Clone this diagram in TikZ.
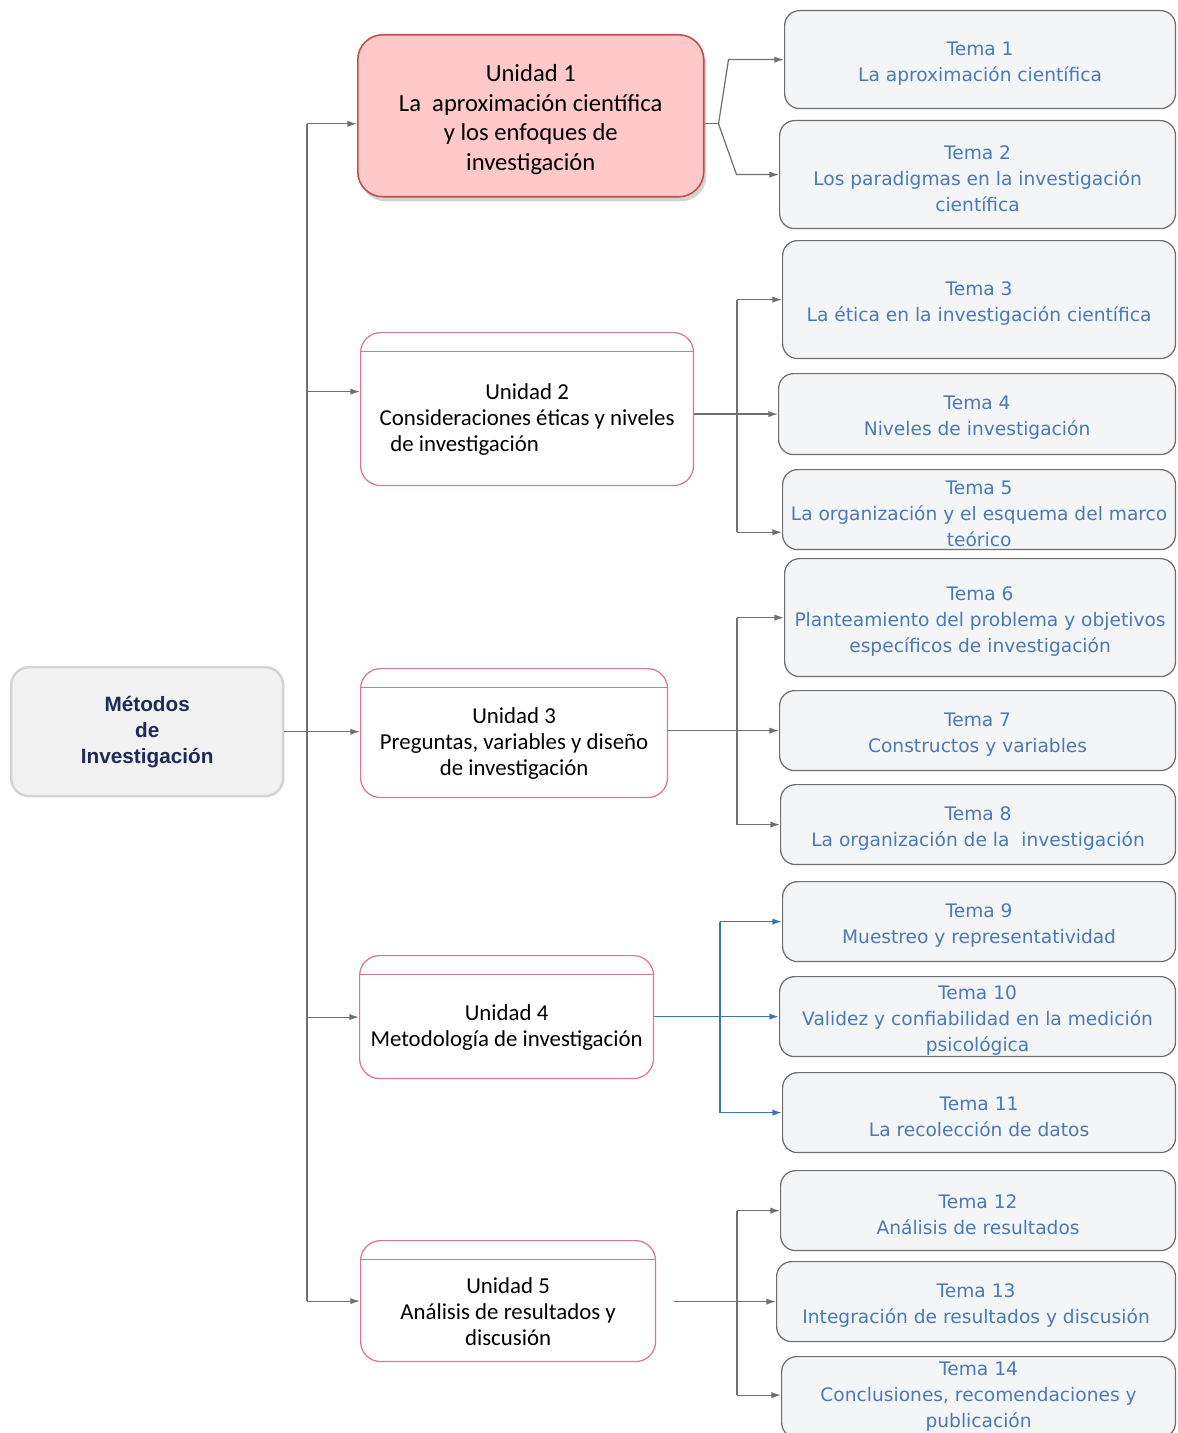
\documentclass[tikz,border=0pt]{standalone}
\usepackage{fontspec}
\setmainfont{DejaVu Sans}
\newfontfamily\unifont{Carlito}
\newfontfamily\rootfont{Liberation Sans}
\usetikzlibrary{arrows.meta,shadows}
\definecolor{rootfill}{HTML}{F2F2F2}
\definecolor{rootgray}{HTML}{D3D3D3}
\definecolor{rootnavy}{HTML}{1C2B5A}
\definecolor{unired}{HTML}{D9788C}
\definecolor{selfill}{HTML}{FFC9C9}
\definecolor{selred}{HTML}{C0504D}
\definecolor{temafill}{HTML}{F4F5F7}
\definecolor{temagray}{HTML}{6E6E6E}
\definecolor{temablue}{HTML}{4A7AB5}
\definecolor{linkgray}{HTML}{707070}
\definecolor{linkblue}{HTML}{3F73B3}
% espacio para la franja superior de las unidades
\newcommand{\unihead}{\rule{0pt}{21pt}}
\newcommand{\temahead}{\rule{0pt}{12pt}}
\tikzset{
  dims/.style 2 args = { minimum width=#1cm, minimum height=#2cm },
  root/.style      = { draw=rootgray, line width=1.4pt, fill=rootfill, rounded corners=0.36cm,
                       anchor=north west, inner sep=0pt, align=center, text=rootnavy,
                       font=\rootfont\bfseries\fontsize{11.8}{14.8}\selectfont },
  unidad_sel/.style = { draw=selred, line width=0.9pt, fill=selfill, rounded corners=0.5cm,
                       anchor=north west, inner sep=0pt, align=center,
                       drop shadow={shadow xshift=0.05cm, shadow yshift=-0.09cm, opacity=0.35},
                       font=\unifont\fontsize{14}{17}\selectfont },
  unidad/.style    = { draw=unired, line width=0.7pt, fill=white, rounded corners=0.4cm,
                       anchor=north west, inner sep=0pt, align=center,
                       path picture={\draw[unired, line width=0.6pt]
                         ([yshift=-0.38cm]path picture bounding box.north west) --
                         ([yshift=-0.38cm]path picture bounding box.north east);},
                       font=\unifont\fontsize{13}{14.8}\selectfont },
  tema/.style      = { draw=temagray, line width=0.7pt, fill=temafill, rounded corners=0.3cm,
                       anchor=north west, inner sep=0pt, align=center, text=temablue,
                       font=\fontsize{10.6}{14.8}\selectfont },
  connect/.style   = { draw=linkgray, line width=0.7pt },
  connectto/.style = { connect, -{Latex[length=5.5pt,width=3.6pt]} },
  connect_b/.style = { draw=linkblue, line width=0.8pt },
  connectto_b/.style = { connect_b, -{Latex[length=5.5pt,width=3.6pt]} }
}

\begin{document}
\begin{tikzpicture}[x=0.02cm, y=-0.02cm]
\useasboundingbox (0,0) rectangle (1177,1433);

% centro
\node[root, dims={5.44}{2.58}] (root) at (10,666) {Métodos\\de\\Investigación};

% unidades
\node[unidad_sel, dims={6.92}{3.24}] (u1) at (357,34)
  {\rule{0pt}{14pt}Unidad 1\\La~ aproximación científica\\y los enfoques de\\investigación};
\node[unidad, dims={6.66}{3.06}] (u2) at (360,332)
  {\unihead Unidad 2\\Consideraciones éticas y niveles\\de investigación\rule{2.5cm}{0pt}};
\node[unidad, dims={6.14}{2.58}] (u3) at (360,668)
  {\unihead Unidad 3\\Preguntas, variables y diseño\\de investigación};
\node[unidad, dims={5.88}{2.46}] (u4) at (359,955)
  {\unihead Unidad 4\\Metodología de investigación};
\node[unidad, dims={5.90}{2.42}] (u5) at (360,1240)
  {\unihead Unidad 5\\Análisis de resultados y\\discusión};

% temas
\node[tema, dims={7.82}{1.96}] (t1) at (784,10) {\temahead Tema 1\\La aproximación científica};
\node[tema, dims={7.92}{2.16}] (t2) at (779,120) {\temahead Tema 2\\Los paradigmas en la investigación\\científica};
\node[tema, dims={7.86}{2.36}] (t3) at (782,240) {\temahead Tema 3\\La ética en la investigación científica};
\node[tema, dims={7.94}{1.62}] (t4) at (778,373) {\temahead Tema 4\\Niveles de investigación};
\node[tema, dims={7.86}{1.60}] (t5) at (782,469) {\temahead Tema 5\\La organización y el esquema del marco\\teórico};
\node[tema, dims={7.82}{2.36}] (t6) at (784,558) {\temahead Tema 6\\Planteamiento del problema y objetivos\\específicos de investigación};
\node[tema, dims={7.92}{1.60}] (t7) at (779,690) {\temahead Tema 7\\Constructos y variables};
\node[tema, dims={7.90}{1.60}] (t8) at (780,784) {\temahead Tema 8\\La organización de la~ investigación};
\node[tema, dims={7.86}{1.60}] (t9) at (782,881) {\temahead Tema 9\\Muestreo y representatividad};
\node[tema, dims={7.92}{1.60}] (t10) at (779,976) {\temahead Tema 10\\Validez y confiabilidad en la medición\\psicológica};
\node[tema, dims={7.86}{1.60}] (t11) at (782,1072) {\temahead Tema 11\\La recolección de datos};
\node[tema, dims={7.90}{1.60}] (t12) at (780,1170) {\temahead Tema 12\\Análisis de resultados};
\node[tema, dims={7.98}{1.60}] (t13) at (776,1261) {\temahead Tema 13\\Integración de resultados y discusión};
\node[tema, dims={7.88}{1.62}] (t14) at (781,1356) {Tema 14\\Conclusiones, recomendaciones y\\publicación};

% tronco
\coordinate (trunk) at (307,731);
\coordinate (u1in) at ([yshift=-0.16cm]u1.west);
\coordinate (u2in) at ([yshift=0.35cm]u2.west);
\draw[connectto] (root.east) -- (root.east -| u3.west);
\draw[connect] (trunk |- u1in) -- (trunk |- u5.west);
\draw[connectto] (trunk |- u1in) -- (u1in);
\draw[connectto] (trunk |- u2in) -- (u2in);
\foreach \u in {u4,u5}
  \draw[connectto] (trunk |- \u.west) -- (\u.west);

% unidad 1
\coordinate (f1) at ([xshift=0.28cm]u1in -| u1.east);
\draw[connect] (u1in -| u1.east) -- (f1);
\draw[connectto] (f1) -- ([xshift=0.2cm]f1 |- t1.west) -- (t1.west);
\draw[connectto] (f1) -- ([xshift=0.36cm]f1 |- t2.west) -- (t2.west);

% unidades 2, 3 y 5
\coordinate (bus) at (737,0);
\coordinate (t5in) at ([yshift=0.36cm]t5.south west);
\coordinate (t14in) at ([yshift=0.04cm]t14.west);
\draw[connectto] (u2.east |- t4.west) -- (t4.west);
\draw[connect] (bus |- t3.west) -- (bus |- t5in);
\draw[connectto] (bus |- t5in) -- (t5in);
\draw[connectto] (u3.east |- t7.west) -- (t7.west);
\draw[connect] (bus |- t6.west) -- (bus |- t8.west);
\draw[connectto] ([xshift=0.36cm]u5.east |- t13.west) -- (t13.west);
\draw[connect] (bus |- t12.west) -- (bus |- t14in);
\draw[connectto] (bus |- t14in) -- (t14in);
\foreach \t in {t3,t6,t8,t12}
  \draw[connectto] (bus |- \t.west) -- (\t.west);

% unidad 4
\coordinate (bus_b) at (720,0);
\draw[connectto_b] (u4.east |- t10.west) -- (t10.west);
\draw[connect_b] (bus_b |- t9.west) -- (bus_b |- t11.west);
\foreach \t in {t9,t11}
  \draw[connectto_b] (bus_b |- \t.west) -- (\t.west);
\end{tikzpicture}
\end{document}
